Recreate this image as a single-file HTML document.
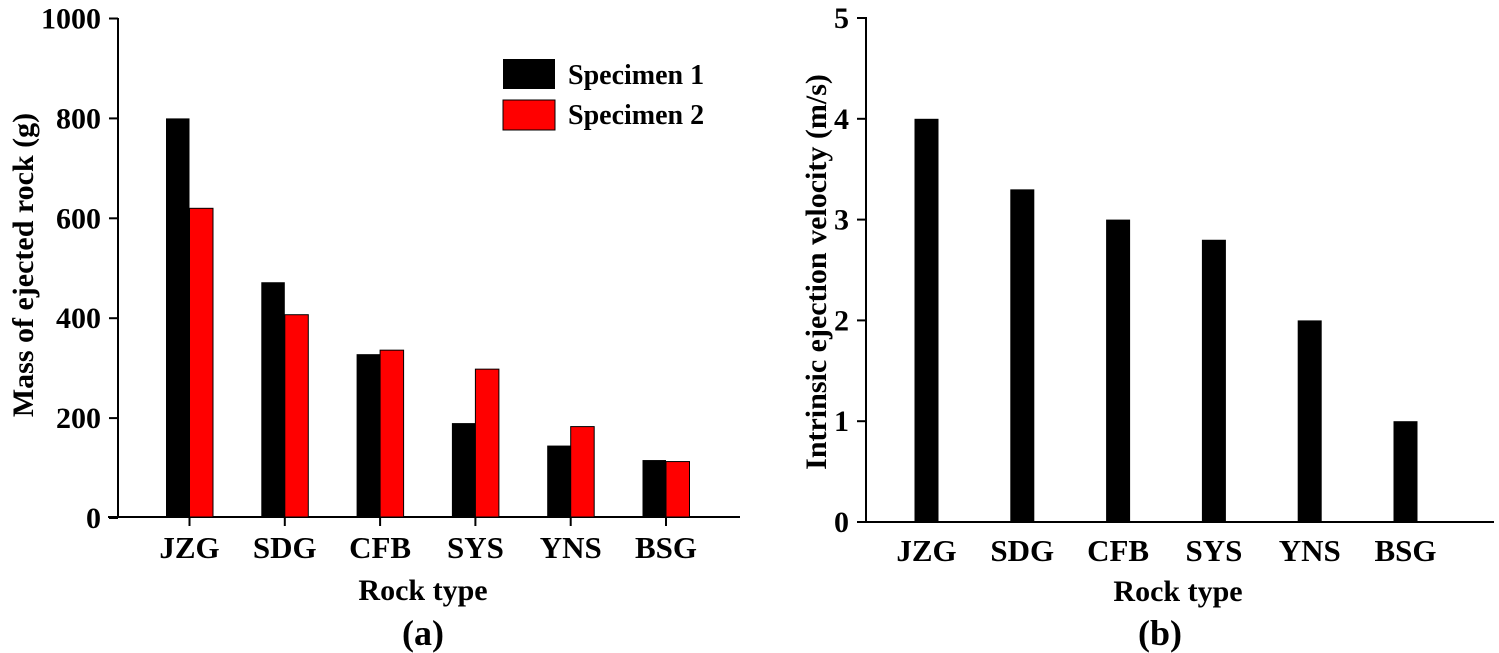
<!DOCTYPE html>
<html><head><meta charset="utf-8"><style>
body{margin:0;background:#fff}
svg{display:block;font-family:"Liberation Serif","DejaVu Serif",serif;font-weight:bold}
</style></head><body>
<svg id="c" width="1499" height="653"></svg>
<script>
const categories=["JZG","SDG","CFB","SYS","YNS","BSG"];
const massSpecimen1=[800,472,328,190,145,116];
const massSpecimen2=[620,407,336,298,183,113];
const velocity=[4,3.3,3,2.8,2,1];
const massTicks=[0,200,400,600,800,1000];
const velTicks=[0,1,2,3,4,5];
const NS="http://www.w3.org/2000/svg";
const svg=document.getElementById('c');
function mk(t,a,txt){const e=document.createElementNS(NS,t);for(const k in a)e.setAttribute(k,a[k]);if(txt!==undefined)e.textContent=txt;svg.appendChild(e);return e;}
// chart a
const yA=v=>518-v*0.4995;
const xA=i=>189.5+i*95.3;
let e=mk('line',{x1:118,y1:18,x2:118,y2:518,stroke:'#000','stroke-width':2});

e=mk('line',{x1:108,y1:517,x2:740,y2:517,stroke:'#000','stroke-width':2});

massTicks.forEach(t=>{
  mk('line',{x1:109,y1:yA(t),x2:118,y2:yA(t),stroke:'#000','stroke-width':2});
  e=mk('text',{x:101,y:yA(t)+10,'text-anchor':'end','font-size':30},t);
  
});
categories.forEach((c,i)=>{
  const x=xA(i);
  e=mk('rect',{x:x-23.5,y:yA(massSpecimen1[i]),width:23.5,height:517-yA(massSpecimen1[i]),fill:'#000'});
  
  e=mk('rect',{x:x,y:yA(massSpecimen2[i]),width:23.5,height:517-yA(massSpecimen2[i]),fill:'#f00',stroke:'#000','stroke-width':1});
  
  mk('line',{x1:x,y1:517,x2:x,y2:526,stroke:'#000','stroke-width':2});
  e=mk('text',{x:x,y:558,'text-anchor':'middle','font-size':31},c);
  
});
e=mk('text',{x:423,y:600,'text-anchor':'middle','font-size':30},'Rock type');

e=mk('text',{x:0,y:0,'text-anchor':'middle','font-size':30,transform:'translate(33,265) rotate(-90)'},'Mass of ejected rock (g)');

e=mk('text',{x:423,y:645,'text-anchor':'middle','font-size':36},'(a)');

e=mk('rect',{x:503,y:59,width:52,height:30,fill:'#000'});

e=mk('text',{x:568,y:84,'font-size':28},'Specimen 1');

e=mk('rect',{x:503,y:100,width:52,height:30,fill:'#f00',stroke:'#000','stroke-width':1});

e=mk('text',{x:568,y:124,'font-size':28},'Specimen 2');

// chart b
const yB=v=>522-v*100.8;
const xB=i=>926.5+i*95.8;
e=mk('line',{x1:866,y1:17,x2:866,y2:523,stroke:'#000','stroke-width':2});

e=mk('line',{x1:857,y1:522,x2:1494,y2:522,stroke:'#000','stroke-width':2});

velTicks.forEach(t=>{
  mk('line',{x1:857,y1:yB(t),x2:866,y2:yB(t),stroke:'#000','stroke-width':2});
  e=mk('text',{x:849,y:yB(t)+10,'text-anchor':'end','font-size':30},t);
  
});
categories.forEach((c,i)=>{
  const x=xB(i);
  e=mk('rect',{x:x-12,y:yB(velocity[i]),width:24,height:522-yB(velocity[i]),fill:'#000'});
  
  e=mk('text',{x:x,y:561,'text-anchor':'middle','font-size':31},c);
  
});
e=mk('text',{x:1178,y:601,'text-anchor':'middle','font-size':30},'Rock type');

e=mk('text',{x:0,y:0,'text-anchor':'middle','font-size':30,transform:'translate(826,272) rotate(-90)'},'Intrinsic ejection velocity (m/s)');

e=mk('text',{x:1160,y:645,'text-anchor':'middle','font-size':36},'(b)');

</script>
</body></html>
